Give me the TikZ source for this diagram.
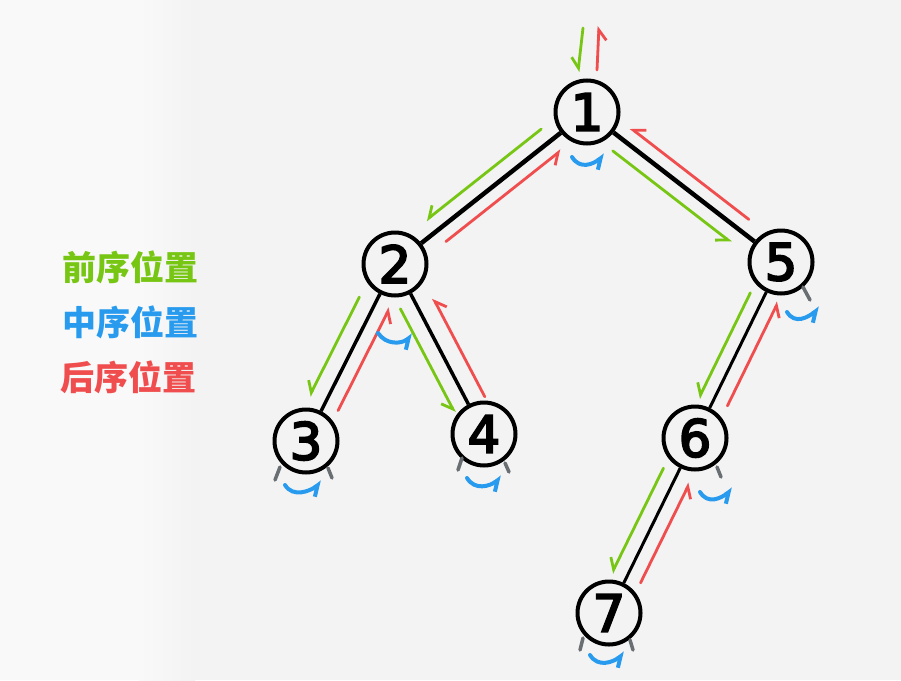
\documentclass[tikz,border=0pt]{standalone}
\usepackage{fontspec}
\newfontfamily\digitfont{DejaVu Sans}[FakeBold=4]
\newfontfamily\cjk{Noto Sans CJK SC}
\usetikzlibrary{arrows.meta,calc}
\definecolor{pgreen}{RGB}{120,198,20}
\definecolor{pblue}{RGB}{40,155,238}
\definecolor{pred}{RGB}{240,78,78}
\definecolor{pgray}{RGB}{105,110,115}
\definecolor{paper}{RGB}{243,243,243}
\definecolor{paperlight}{RGB}{249,249,249}
\begin{document}
\begin{tikzpicture}[x=1pt,y=-1pt,
  treenode/.style={circle,draw=black,line width=4pt,minimum size=63pt,inner sep=0pt,
    font=\digitfont\fontsize{51}{51}\selectfont},
  treeedge/.style={line width=3.5pt,black},
  harp/.style={-{Straight Barb[harpoon,swap,length=10pt,width=16pt]},line width=2.8pt,line cap=round},
  pre/.style={harp,pgreen},
  post/.style={harp,pred},
  mid/.style={-{Straight Barb[harpoon,swap,length=9pt,width=15pt]},line cap=round,pblue,line width=4pt},
  stub/.style={pgray,line width=3.5pt,line cap=round},
  legend/.style={font=\cjk\bfseries\fontsize{34}{34}\selectfont}
]
\fill[paper] (0,0) rectangle (901,680);
\fill[paperlight] (0,0) rectangle (140,680);
\shade[left color=paperlight,right color=paper] (139,0) rectangle (195,680);
\useasboundingbox (0,0) rectangle (901,680);

% legend
\node[legend,text=pgreen] (l1) at (130,267) {前序位置};
\node[legend,text=pblue]  (l2) at (130,322) {中序位置};
\node[legend,text=pred]   (l3) at (128,377) {后序位置};

% nodes
\node[treenode] (n1) at (587,112) {1};
\node[treenode] (n2) at (395,264) {2};
\node[treenode] (n3) at (306,441) {3};
\node[treenode] (n4) at (484,434) {4};
\node[treenode] (n5) at (781,262) {5};
\node[treenode] (n6) at (695,438) {6};
\node[treenode] (n7) at (609,613) {7};

% edges
\draw[treeedge,line width=4.5pt] (n1) -- (n2);
\draw[treeedge,line width=4.5pt] (n1) -- (n5);
\draw[treeedge] (n2) -- (n3);
\draw[treeedge] (n2) -- (n4);
\draw[treeedge,line width=3pt] (n5) -- (n6);
\draw[treeedge,line width=3pt] (n6) -- (n7);

% entering / leaving the root
\coordinate (gtop) at (583,28);
\coordinate (rtop) at (599,26);
\draw[pre] (gtop) -- ($(n1)+(-9,-40)$);
\draw[post] ($(n1)+(10,-42)$) -- (rtop);

% preorder (down) and postorder (up) arrows
\draw[pre]  ($(n1)!0.19!(n2)!15pt!-90:(n2)$) -- ($(n1)!0.79!(n2)!15pt!-90:(n2)$);
\draw[post] ($(n1)!0.78!(n2)!14pt!90:(n2)$) -- ($(n1)!0.18!(n2)!14pt!90:(n2)$);
\draw[pre]  ($(n1)!0.18!(n5)!15pt!-90:(n5)$) -- ($(n1)!0.79!(n5)!15pt!-90:(n5)$);
\draw[post] ($(n1)!0.79!(n5)!14pt!90:(n5)$) -- ($(n1)!0.18!(n5)!14pt!90:(n5)$);
\draw[pre]  ($(n2)!0.23!(n3)!17pt!-90:(n3)$) -- ($(n2)!0.79!(n3)!17pt!-90:(n3)$);
\draw[post] ($(n2)!0.79!(n3)!15pt!90:(n3)$) -- ($(n2)!0.21!(n3)!15pt!90:(n3)$);
\draw[pre]  ($(n2)!0.22!(n4)!16pt!-90:(n4)$) -- ($(n2)!0.83!(n4)!16pt!-90:(n4)$);
\draw[post] ($(n2)!0.83!(n4)!18pt!90:(n4)$) -- ($(n2)!0.25!(n4)!18pt!90:(n4)$);
\draw[pre]  ($(n5)!0.21!(n6)!14pt!-90:(n6)$) -- ($(n5)!0.81!(n6)!14pt!-90:(n6)$);
\draw[post] ($(n5)!0.78!(n6)!15pt!90:(n6)$) -- ($(n5)!0.19!(n6)!15pt!90:(n6)$);
\draw[pre]  ($(n6)!0.21!(n7)!15pt!-90:(n7)$) -- ($(n6)!0.81!(n7)!15pt!-90:(n7)$);
\draw[post] ($(n6)!0.79!(n7)!15pt!90:(n7)$) -- ($(n6)!0.22!(n7)!15pt!90:(n7)$);

% null-child stubs
\draw[stub] ($(n3)+(-26,26)$) -- ($(n3)+(-31,39)$);
\draw[stub] ($(n3)+(22,27)$) -- ($(n3)+(26,37)$);
\draw[stub] ($(n4)+(-22,24)$) -- ($(n4)+(-26,36)$);
\draw[stub] ($(n4)+(21,29)$) -- ($(n4)+(25,38)$);
\draw[stub] ($(n5)+(22,25)$) -- ($(n5)+(29,38)$);
\draw[stub] ($(n6)+(22,29)$) -- ($(n6)+(26,39)$);
\draw[stub] ($(n7)+(-26,25)$) -- ($(n7)+(-29,37)$);
\draw[stub] ($(n7)+(21,27)$) -- ($(n7)+(24,37)$);

% inorder arcs
\draw[mid] ($(n1)+(-15,45)$) .. controls ($(n1)+(-7,58)$) and ($(n1)+(6,52)$) .. ($(n1)+(18,43)$);
\draw[mid] ($(n2)+(-17,69)$) .. controls ($(n2)+(-9,81)$) and ($(n2)+(6,80)$) .. ($(n2)+(18,71)$);
\draw[mid] ($(n3)+(-21,44)$) .. controls ($(n3)+(-13,57)$) and ($(n3)+(4,50)$) .. ($(n3)+(16,41)$);
\draw[mid] ($(n4)+(-17,44)$) .. controls ($(n4)+(-9,57)$) and ($(n4)+(6,52)$) .. ($(n4)+(18,43)$);
\draw[mid] ($(n5)+(6,50)$) .. controls ($(n5)+(14,63)$) and ($(n5)+(27,55)$) .. ($(n5)+(39,46)$);
\draw[mid] ($(n6)+(5,54)$) .. controls ($(n6)+(13,67)$) and ($(n6)+(26,60)$) .. ($(n6)+(38,51)$);
\draw[mid] ($(n7)+(-19,42)$) .. controls ($(n7)+(-11,55)$) and ($(n7)+(4,49)$) .. ($(n7)+(16,40)$);
\end{tikzpicture}
\end{document}
